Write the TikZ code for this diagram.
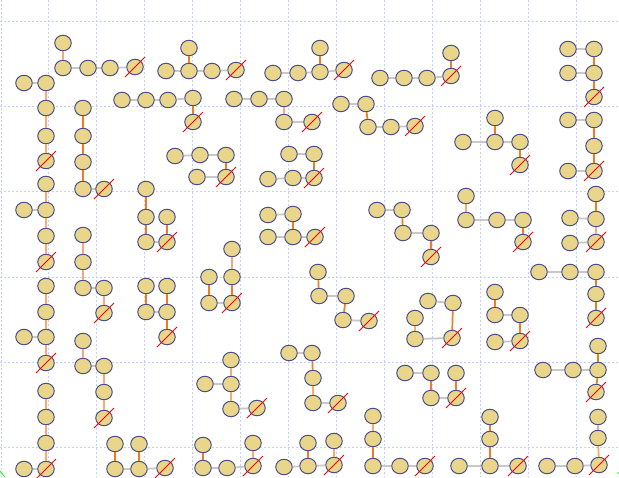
\documentclass[tikz,border=0pt]{standalone}
\usepackage{xcolor}
\usepackage{tikz}
\usetikzlibrary{shapes.geometric}
\definecolor{beadc}{HTML}{E9D68A}
\definecolor{rimc}{HTML}{4A4E88}
\definecolor{gridc}{HTML}{C3D2F4}
\definecolor{bondo}{HTML}{F47A22}
\definecolor{bondp}{HTML}{F8A878}
\definecolor{bondg}{HTML}{C8C8C8}
\tikzset{
  bead/.style={ellipse,draw=rimc,fill=beadc,line width=1pt,minimum width=16.5pt,minimum height=15.5pt,inner sep=0pt},
  hb/.style={bondg,line width=1.8pt},
  vb/.style={bondo,line width=1.7pt},
  vp/.style={bondp,line width=1.8pt},
  cut/.style={red,line width=0.9pt},
  gl/.style={gridc,line width=0.8pt,dash pattern=on 2pt off 2pt}
}

\begin{document}
\begin{tikzpicture}[x=1pt,y=-1pt]
\fill[white] (0,0) rectangle (619,477);
\useasboundingbox (0,0) rectangle (619,477);
% lattice
\foreach \gx in {1,48,96,...,576} \draw[gl] (\gx,0) -- (\gx,477);
\foreach \gy in {21,106,191,277,362,447} \draw[gl] (0,\gy) -- (619,\gy);
\draw[green,line width=0.8pt] (0,471) -- (5,477);
\fill[green] (618,473) circle (0.8pt);
% beads, five per chain
\foreach \nm/\x/\y in {
  a1/63/43, a2/63/68, a3/88/68, a4/110/68, a5/135/67,
  b1/166/71, b2/189/48, b3/189/71, b4/212/71, b5/236/70,
  c1/273/73, c2/298/73, c3/320/48, c4/320/72, c5/344/70,
  d1/380/78, d2/404/78, d3/427/78, d4/451/53, d5/451/76,
  e1/568/49, e2/594/49, e3/568/73, e4/594/73, e5/594/97,
  f1/24/83, f2/46/83, f3/46/108, f4/46/136, f5/46/161,
  g1/83/108, g2/83/136, g3/83/162, g4/83/189, g5/104/189,
  h1/122/100, h2/146/100, h3/168/100, h4/193/98, h5/193/122,
  i1/234/99, i2/259/99, i3/284/99, i4/284/122, i5/312/122,
  j1/341/104, j2/366/104, j3/368/127, j4/391/127, j5/415/126,
  k1/463/142, k2/495/118, k3/495/142, k4/520/142, k5/520/165,
  l1/568/120, l2/594/120, l3/594/146, l4/568/171, l5/594/171,
  m1/175/156, m2/200/155, m3/226/155, m4/197/177, m5/226/177,
  n1/289/154, n2/314/154, n3/268/179, n4/293/178, n5/314/178,
  o1/24/210, o2/46/184, o3/46/210, o4/46/236, o5/46/262,
  p1/83/235, p2/83/262, p3/83/288, p4/104/288, p5/104/313,
  q1/146/189, q2/146/217, q3/146/242, q4/167/217, q5/167/242,
  r1/268/215, r2/293/214, r3/268/237, r4/293/237, r5/315/237,
  s1/377/210, s2/402/210, s3/403/233, s4/431/233, s5/431/257,
  t1/466/196, t2/466/220, t3/497/220, t4/523/220, t5/523/242,
  u1/596/194, u2/570/218, u3/596/219, u4/570/243, u5/596/242,
  v1/232/249, v2/209/277, v3/232/277, v4/209/303, v5/232/303,
  w1/318/272, w2/319/296, w3/346/296, w4/343/320, w5/369/321,
  x1/539/272, x2/570/272, x3/596/272, x4/596/294, x5/596/318,
  y1/428/301, y2/453/303, y3/415/318, y4/415/339, y5/452/338,
  z1/495/292, z2/495/315, z3/520/315, z4/495/342, z5/520/341,
  aa1/46/286, aa2/46/312, aa3/24/337, aa4/46/337, aa5/46/363,
  ab1/146/286, ab2/167/286, ab3/146/312, ab4/167/312, ab5/167/337,
  ac1/83/341, ac2/83/366, ac3/104/366, ac4/104/392, ac5/104/418,
  ad1/231/360, ad2/205/384, ad3/231/384, ad4/231/409, ad5/257/408,
  ae1/289/353, ae2/312/353, ae3/313/378, ae4/313/403, ae5/338/403,
  af1/405/373, af2/431/373, af3/456/373, af4/431/398, af5/456/398,
  ag1/543/370, ag2/573/370, ag3/598/346, ag4/598/370, ag5/596/392,
  ah1/46/391, ah2/46/417, ah3/46/443, ah4/24/469, ah5/46/469,
  ai1/115/444, ai2/139/444, ai3/115/469, ai4/139/469, ai5/165/468,
  aj1/203/445, aj2/253/443, aj3/203/468, aj4/227/468, aj5/253/466,
  ak1/308/443, ak2/334/441, ak3/284/467, ak4/308/466, ak5/334/465,
  al1/373/416, al2/373/439, al3/373/466, al4/400/466, al5/425/466,
  am1/490/417, am2/490/439, am3/459/466, am4/490/466, am5/518/466,
  an1/598/417, an2/598/438, an3/547/466, an4/575/466, an5/599/465}
  \node[bead] (\nm) at (\x,\y) {};
% sideways bonds
\foreach \p/\q in {a2/a3, a3/a4, a4/a5, b1/b3, b3/b4, b4/b5, c1/c2, c2/c4, c4/c5,
  d1/d2, d2/d3, d3/d5, e1/e2, e3/e4, f1/f2, g4/g5, h1/h2, h2/h3, h3/h4,
  i1/i2, i2/i3, i4/i5, j1/j2, j3/j4, j4/j5, k1/k3, k3/k4, l1/l2, l4/l5,
  m1/m2, m2/m3, m4/m5, n1/n2, n3/n4, n4/n5, o1/o3, p3/p4, q3/q5,
  r1/r2, r3/r4, r4/r5, s1/s2, s3/s4, t2/t3, t3/t4, u2/u3, u4/u5, v4/v5,
  w2/w3, w4/w5, x1/x2, x2/x3, y1/y2, y4/y5, z2/z3, z4/z5, aa3/aa4, ab3/ab4,
  ac2/ac3, ad2/ad3, ad4/ad5, ae1/ae2, ae4/ae5, af1/af2, af4/af5, ag1/ag2, ag2/ag4,
  ah4/ah5, ai3/ai4, ai4/ai5, aj3/aj4, aj4/aj5, ak3/ak4, ak4/ak5, al3/al4, al4/al5,
  am3/am4, am4/am5, an3/an4, an4/an5}
  \draw[hb] (\p) -- (\q);
% upright bonds
\foreach \p/\q in {b2/b3, c3/c4, d4/d5, e2/e4, e4/e5, g1/g2, g2/g3, g3/g4, h4/h5,
  j2/j3, k2/k3, k4/k5, l2/l3, l3/l5, m3/m5, n2/n5, q1/q2, q2/q3, q4/q5, r2/r4,
  s2/s3, s4/s5, t4/t5, u1/u3, v3/v5, v2/v4, w1/w2, w3/w4, x3/x4, x4/x5, y2/y5,
  z1/z2, z3/z5, ab1/ab3, ab2/ab4, ab4/ab5, ae2/ae3, af2/af4, af3/af5,
  ag3/ag4, ag4/ag5, ai1/ai3, ai2/ai4, aj1/aj3, ak1/ak4, al2/al3, am1/am2, am2/am4}
  \draw[vb] (\p) -- (\q);
\foreach \p/\q in {a1/a2, f2/f3, f3/f4, f4/f5, i3/i4, o2/o3, o3/o4, o4/o5, p1/p2,
  p2/p3, p4/p5, t1/t2, u3/u5, v1/v3, y3/y4, aa1/aa2, aa2/aa4, aa4/aa5, ac1/ac2, ac3/ac4,
  ac4/ac5, ad1/ad3, ad3/ad4, ae3/ae4, ah1/ah2, ah2/ah3, ah3/ah5, aj2/aj5, ak2/ak5,
  al1/al2, an1/an2, an2/an5}
  \draw[vp] (\p) -- (\q);
% struck-out ends
\foreach \nm in {a5,b5,c5,d5,e5,f5,g5,h5,i5,j5,k5,l5,m5,n5,o5,p5,q5,r5,s5,t5,
  u5,v5,w5,x5,y5,z5,aa5,ab5,ac5,ad5,ae5,af5,ag5,ah5,ai5,aj5,ak5,al5,am5,an5}
  \draw[cut] ([shift={(-10,10)}]\nm.center) -- ([shift={(10,-10)}]\nm.center);
\end{tikzpicture}
\end{document}
